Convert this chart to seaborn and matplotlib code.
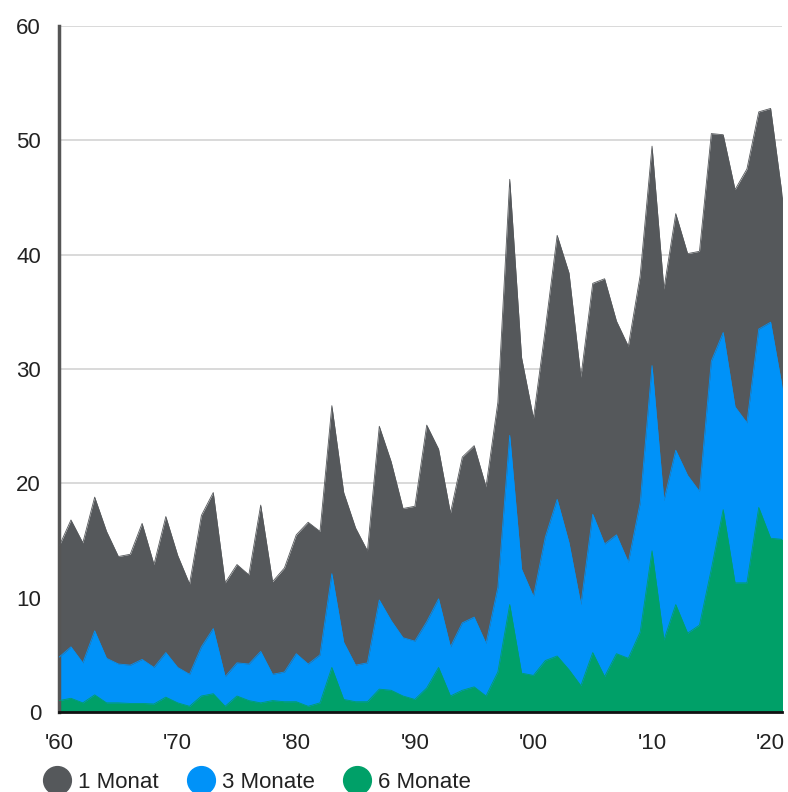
import matplotlib
matplotlib.use("Agg")
import matplotlib.pyplot as plt
from matplotlib.lines import Line2D
import seaborn as sns
import pandas as pd

years = list(range(1960, 2022))

monat_1 = [14.5, 16.8, 14.8, 18.8, 15.8, 13.6, 13.8, 16.5, 12.9, 17.1,
           13.7, 11.2, 17.2, 19.2, 11.3, 12.9, 12.0, 18.1, 11.4, 12.6,
           15.5, 16.6, 15.8, 26.8, 19.2, 16.1, 14.1, 25.0, 21.9, 17.8,
           18.0, 25.1, 23.0, 17.4, 22.3, 23.3, 19.7, 27.1, 46.6, 31.0,
           25.7, 33.5, 41.7, 38.4, 29.3, 37.5, 37.9, 34.2, 32.0, 38.2,
           49.5, 37.0, 43.6, 40.1, 40.3, 50.6, 50.5, 45.7, 47.5, 52.5,
           52.8, 45.0]

monate_3 = [4.8, 5.7, 4.3, 7.1, 4.7, 4.2, 4.1, 4.6, 3.9, 5.2,
            3.9, 3.3, 5.7, 7.3, 3.1, 4.3, 4.2, 5.3, 3.3, 3.5,
            5.1, 4.2, 5.0, 12.1, 6.1, 4.1, 4.3, 9.8, 8.0, 6.5,
            6.2, 7.9, 9.9, 5.7, 7.8, 8.3, 6.0, 10.9, 24.2, 12.5,
            10.1, 15.3, 18.6, 14.8, 9.4, 17.3, 14.7, 15.5, 13.1, 18.3,
            30.3, 18.5, 22.9, 20.7, 19.3, 30.7, 33.2, 26.7, 25.3, 33.5,
            34.1, 28.3]

monate_6 = [1.0, 1.2, 0.8, 1.5, 0.8, 0.8, 0.75, 0.75, 0.7, 1.3,
            0.8, 0.5, 1.4, 1.6, 0.5, 1.4, 1.0, 0.8, 1.0, 0.9,
            0.9, 0.5, 0.8, 3.9, 1.1, 0.9, 0.9, 2.0, 1.9, 1.4,
            1.1, 2.1, 3.9, 1.4, 1.9, 2.2, 1.4, 3.5, 9.4, 3.4,
            3.2, 4.5, 4.9, 3.7, 2.3, 5.2, 3.1, 5.1, 4.7, 7.0,
            14.1, 6.3, 9.4, 6.9, 7.6, 12.5, 17.7, 11.3, 11.3, 17.9,
            15.2, 15.1]

series = ["1 Monat", "3 Monate", "6 Monate"]
colors = ["#55585b", "#0092f8", "#00a068"]
x_ticks = [1960, 1970, 1980, 1990, 2000, 2010, 2020]
x_labels = ["'60", "'70", "'80", "'90", "'00", "'10", "'20"]
y_ticks = [0, 10, 20, 30, 40, 50, 60]

df = pd.DataFrame({"Jahr": years, "1 Monat": monat_1,
                   "3 Monate": monate_3, "6 Monate": monate_6})

sns.set_style("white")
plt.rcParams["font.family"] = ["Liberation Sans", "DejaVu Sans"]

fig = plt.figure(figsize=(7.88, 7.92), dpi=100)
ax = fig.add_axes([0.075, 0.101, 0.918, 0.866])

# flaechen von hinten nach vorne
for name, col in zip(series, colors):
    ax.fill_between(df["Jahr"], 0, df[name], color=col, linewidth=0, zorder=2)
    sns.lineplot(data=df, x="Jahr", y=name, ax=ax, color=col, linewidth=0.6, zorder=3)

ax.set_xlim(1960, 2021)
ax.set_ylim(0, 60)
ax.set_xticks(x_ticks)
ax.set_xticklabels(x_labels)
ax.set_yticks(y_ticks)
ax.set_xlabel("")
ax.set_ylabel("")

ax.grid(axis="y", color="#d9d9d9", linewidth=1.4, zorder=0)
ax.grid(axis="x", visible=False)
ax.set_axisbelow(True)

for side in ["top", "right"]:
    ax.spines[side].set_visible(False)
ax.spines["left"].set_color("#555555")
ax.spines["left"].set_linewidth(2.5)
ax.spines["bottom"].set_color("#111111")
ax.spines["bottom"].set_linewidth(2)
ax.spines["bottom"].set_zorder(5)

ax.tick_params(axis="x", direction="out", length=8, width=1.5, color="#111111",
               labelsize=16, labelcolor="#222222", pad=7)
ax.tick_params(axis="y", length=0, labelsize=16, labelcolor="#222222", pad=13)

handles = [Line2D([0], [0], marker="o", linestyle="", markersize=20,
                  markerfacecolor=c, markeredgecolor=c) for c in colors]
fig.legend(handles, series, loc="lower left", bbox_to_anchor=(0.03, -0.026),
           ncol=3, frameon=False, fontsize=16, handletextpad=0.35,
           columnspacing=1.3, handlelength=1.2, labelcolor="#222222")

fig.savefig("out.png", dpi=100)
plt.close(fig)
